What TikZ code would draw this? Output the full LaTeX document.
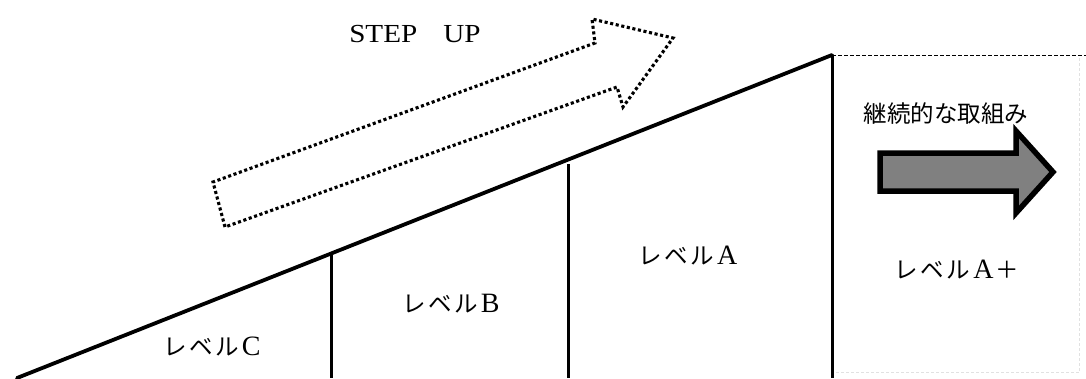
\documentclass[tikz,border=0pt]{standalone}
\usepackage{fontspec}
\setmainfont{Liberation Serif}
\newfontfamily\jpfont{Noto Sans CJK JP}
\newcommand{\lvword}[1]{レ\hspace{2.5pt}ベ\hspace{2.5pt}ル\hspace{3pt}{\rmfamily\fontsize{28}{30}\selectfont #1}}
\begin{document}
\begin{tikzpicture}[x=1pt,y=-1pt,
  slopeline/.style={line width=3.8pt, line cap=round},
  solidline/.style={line width=3pt},
  dottedarrow/.style={line width=3.1pt, dash pattern=on 3.1pt off 2.6pt, line join=miter},
  graybox/.style={line width=5.5pt, line join=miter, fill={rgb,255:red,128;green,128;blue,128}},
  faintline/.style={line width=0.8pt, draw={rgb,255:red,225;green,225;blue,225}, dash pattern=on 3pt off 2pt},
  toplinestyle/.style={line width=1pt, dash pattern=on 3.5pt off 2.5pt},
  lvl/.style={font=\jpfont\fontsize{23.5}{28}\selectfont, inner sep=0pt},
  jptext/.style={font=\jpfont\fontsize{23.5}{28}\selectfont, inner sep=0pt}]
\useasboundingbox (0,0) rectangle (1086,378);
\fill[white] (0,0) rectangle (1086,378);

% key points
\coordinate (bl) at (17,378);
\coordinate (top) at (832,55);
\coordinate (bTop) at (331,253);
\coordinate (bBot) at (331,378);
\coordinate (aTop) at (568,164);
\coordinate (aBot) at (568,378);
\coordinate (rBot) at (832,378);
\coordinate (dashEnd) at (1086,55);
\coordinate (faintR1) at (1079,58);
\coordinate (faintR2) at (1079,372);
\coordinate (faintB1) at (836,372);
\coordinate (faintB2) at (1079,372);

% faint outline of the A+ box
\draw[faintline] (faintR1) -- (faintR2);
\draw[faintline] (faintB1) -- (faintB2);

% slope and dividers
\draw[slopeline] (bl) -- (top);
\draw[solidline] (bTop) -- (bBot);
\draw[solidline] (aTop) -- (aBot);
\draw[solidline] (top) -- (rBot);
\draw[toplinestyle] (top) -- (dashEnd);

% dotted STEP UP arrow
\coordinate (d1) at (225,227);
\coordinate (d2) at (213,182);
\coordinate (d3) at (595,43);
\coordinate (d4) at (592,19);
\coordinate (d5) at (673,38);
\coordinate (d6) at (623,107);
\coordinate (d7) at (617,87);
\draw[dottedarrow] (d1) -- (d2) -- (d3) -- (d4) -- (d5) -- (d6) -- (d7) -- cycle;

% grey arrow
\coordinate (g1) at (880,153);
\coordinate (g2) at (1016,153);
\coordinate (g3) at (1016,131);
\coordinate (g4) at (1053,172);
\coordinate (g5) at (1016,213);
\coordinate (g6) at (1016,191);
\coordinate (g7) at (880,191);
\draw[graybox] (g1) -- (g2) -- (g3) -- (g4) -- (g5) -- (g6) -- (g7) -- cycle;

% texts
\node[inner sep=0pt, xscale=1.12, font=\fontsize{26}{30}\selectfont] (stepup) at (415,34) {STEP\hspace{0.9em}UP};
\node[jptext] (keizoku) at (946,114) {継続的な取組み};
\node[lvl] (lvC) at (212,347) {\lvword{C}};
\node[lvl] (lvB) at (451,304) {\lvword{B}};
\node[lvl] (lvA) at (688,256) {\lvword{A}};
\node[lvl] (lvAp) at (957,270) {\lvword{A}\hspace{2pt}＋};
\end{tikzpicture}
\end{document}
